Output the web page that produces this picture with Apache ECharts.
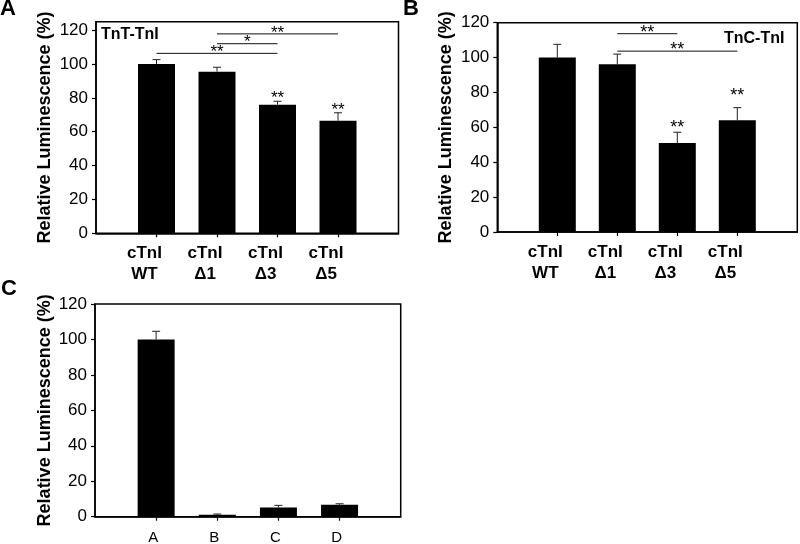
<!DOCTYPE html>
<html>
<head>
<meta charset="utf-8">
<script src="https://cdn.jsdelivr.net/npm/echarts@6/dist/echarts.min.js"></script>
<style>html,body{margin:0;padding:0;background:#fff}#c{width:800px;height:544px}</style>
</head>
<body>
<div id="c"></div>
<script>
// ---- data ----
const catsA = ['cTnI\nWT', 'cTnI\nΔ1', 'cTnI\nΔ3', 'cTnI\nΔ5'];
const meanA = [100, 95.5, 76, 66.5];
const errA = [2.6, 2.6, 2, 4.7];
const starsA = ['', '', '**', '**'];
const starYA = [null, null, 82, 75];
const sigA = [[1, 3, 106.3], [2, 3, 112], [2, 4, 117.8]];
const sigLabA = ['**', '*', '**'];

const catsB = ['cTnI\nWT', 'cTnI\nΔ1', 'cTnI\nΔ3', 'cTnI\nΔ5'];
const meanB = [100, 96.2, 51, 64];
const errB = [7.6, 5.8, 6.2, 7.3];
const starsB = ['', '', '**', '**'];
const starYB = [null, null, 62, 80];
const sigB = [[2, 3, 113.7], [2, 4, 103.7]];
const sigLabB = ['**', '**'];

const catsC = ['A', 'B', 'C', 'D'];
const meanC = [100, 1.1, 5.2, 6.7];
const errC = [4.6, 0.4, 1.2, 0.6];

const yTicks = [0, 20, 40, 60, 80, 100, 120];
const xPos = [1, 2, 3, 4];

const FONT = '"Liberation Sans", Arial, sans-serif';
const yTitle = 'Relative Luminescence (%)';

function errRender(params, api) {
  const x = api.value(0), m = api.value(1), e = api.value(2);
  const p0 = api.coord([x, m]);
  const p1 = api.coord([x, m + e]);
  const cap = 4;
  return {
    type: 'group', children: [
      { type: 'line', shape: { x1: p0[0], y1: p0[1], x2: p1[0], y2: p1[1] }, style: { stroke: '#222', lineWidth: 1 } },
      { type: 'line', shape: { x1: p1[0] - cap, y1: p1[1], x2: p1[0] + cap, y2: p1[1] }, style: { stroke: '#222', lineWidth: 1 } }
    ]
  };
}

function makeStarRender(labels, size) {
  return function (params, api) {
    const p = api.coord([api.value(0), api.value(1)]);
    return {
      type: 'text', x: p[0], y: p[1] + 4,
      style: { text: labels[params.dataIndex], font: size + 'px ' + FONT, fill: '#000', align: 'center', verticalAlign: 'middle' }
    };
  };
}

function makeSigRender(labels, size) {
  return function (params, api) {
    const a = api.coord([api.value(0), api.value(2)]);
    const b = api.coord([api.value(1), api.value(2)]);
    return {
      type: 'group', children: [
        { type: 'line', shape: { x1: a[0], y1: a[1], x2: b[0], y2: b[1] }, style: { stroke: '#111', lineWidth: 1 } },
        { type: 'text', x: (a[0] + b[0]) / 2, y: a[1] - 1,
          style: { text: labels[params.dataIndex], font: size + 'px ' + FONT, fill: '#000', align: 'center', verticalAlign: 'middle' } }
      ]
    };
  };
}

function xAxisDef(gi, cats, bold, padRight, margin, size) {
  return {
    type: 'value', gridIndex: gi, min: 0, max: 5,
    axisLine: { show: true, lineStyle: { color: '#000', width: 1.5 } },
    axisTick: { show: true, length: 4, customValues: xPos, lineStyle: { color: '#000', width: 1.2 } },
    axisLabel: {
      show: true, customValues: xPos, margin: margin,
      formatter: v => cats[Math.round(v) - 1] || '',
      fontFamily: FONT, fontSize: size, fontWeight: bold ? 'bold' : 'normal', color: '#000',
      lineHeight: 21, padding: [0, padRight, 0, 0]
    },
    splitLine: { show: false }
  };
}

function yAxisDef(gi, max, gap) {
  return {
    type: 'value', gridIndex: gi, min: 0, max: max, interval: 20,
    name: yTitle, nameLocation: 'middle', nameGap: gap,
    nameTextStyle: { fontFamily: FONT, fontSize: 18, fontWeight: 'bold', color: '#000' },
    axisLine: { show: true, lineStyle: { color: '#000', width: 1.5 } },
    axisTick: { show: true, length: 4, customValues: yTicks, lineStyle: { color: '#000', width: 1.2 } },
    axisLabel: { show: true, customValues: yTicks, margin: 8, fontFamily: FONT, fontSize: 17, color: '#000' },
    splitLine: { show: false }
  };
}

const gridBase = { show: true, borderColor: '#000', borderWidth: 1.5, backgroundColor: 'transparent', containLabel: false, outerBoundsMode: 'none' };

const barStyle = { color: '#000' };

const option = {
  animation: false,
  backgroundColor: '#fff',
  grid: [
    Object.assign({ left: 96, top: 21.7, width: 302.5, height: 211.6 }, gridBase),
    Object.assign({ left: 497.3, top: 22.7, width: 300, height: 209.3 }, gridBase),
    Object.assign({ left: 95, top: 304, width: 305.7, height: 212.7 }, gridBase)
  ],
  xAxis: [
    xAxisDef(0, catsA, true, 24, 10, 17),
    xAxisDef(1, catsB, true, 24, 10, 17),
    xAxisDef(2, catsC, false, 6, 11, 15)
  ],
  yAxis: [
    yAxisDef(0, 125, 42),
    yAxisDef(1, 120, 42),
    yAxisDef(2, 120, 41)
  ],
  graphic: [
    { type: 'text', left: 0, top: -2, style: { text: 'A', font: 'bold 22px ' + FONT, fill: '#000' } },
    { type: 'text', left: 403, top: -2, style: { text: 'B', font: 'bold 22px ' + FONT, fill: '#000' } },
    { type: 'text', left: 1, top: 278, style: { text: 'C', font: 'bold 22px ' + FONT, fill: '#000' } },
    { type: 'text', left: 101, top: 27, style: { text: 'TnT-TnI', font: 'bold 16px ' + FONT, fill: '#000' } },
    { type: 'text', left: 724, top: 31, style: { text: 'TnC-TnI', font: 'bold 16px ' + FONT, fill: '#000' } }
  ],
  series: [
    { type: 'bar', xAxisIndex: 0, yAxisIndex: 0, barWidth: 37, itemStyle: barStyle, data: xPos.map((x, i) => [x, meanA[i]]) },
    { type: 'custom', xAxisIndex: 0, yAxisIndex: 0, renderItem: errRender, encode: { x: 0, y: 1 }, z: 5, data: xPos.map((x, i) => [x, meanA[i], errA[i]]) },
    { type: 'custom', xAxisIndex: 0, yAxisIndex: 0, renderItem: makeStarRender(starsA.filter(s => s), 17), encode: { x: 0, y: 1 }, z: 5,
      data: xPos.map((x, i) => [x, starYA[i]]).filter(d => d[1] !== null) },
    { type: 'custom', xAxisIndex: 0, yAxisIndex: 0, renderItem: makeSigRender(sigLabA, 17), encode: { x: 0, y: 2 }, z: 5, data: sigA },

    { type: 'bar', xAxisIndex: 1, yAxisIndex: 1, barWidth: 37, itemStyle: barStyle, data: xPos.map((x, i) => [x, meanB[i]]) },
    { type: 'custom', xAxisIndex: 1, yAxisIndex: 1, renderItem: errRender, encode: { x: 0, y: 1 }, z: 5, data: xPos.map((x, i) => [x, meanB[i], errB[i]]) },
    { type: 'custom', xAxisIndex: 1, yAxisIndex: 1, renderItem: makeStarRender(starsB.filter(s => s), 18), encode: { x: 0, y: 1 }, z: 5,
      data: xPos.map((x, i) => [x, starYB[i]]).filter(d => d[1] !== null) },
    { type: 'custom', xAxisIndex: 1, yAxisIndex: 1, renderItem: makeSigRender(sigLabB, 18), encode: { x: 0, y: 2 }, z: 5, data: sigB },

    { type: 'bar', xAxisIndex: 2, yAxisIndex: 2, barWidth: 37, itemStyle: barStyle, data: xPos.map((x, i) => [x, meanC[i]]) },
    { type: 'custom', xAxisIndex: 2, yAxisIndex: 2, renderItem: errRender, encode: { x: 0, y: 1 }, z: 5, data: xPos.map((x, i) => [x, meanC[i], errC[i]]) }
  ]
};

const chart = echarts.init(document.getElementById('c'), null, { renderer: 'canvas' });
chart.setOption(option);
</script>
</body>
</html>
